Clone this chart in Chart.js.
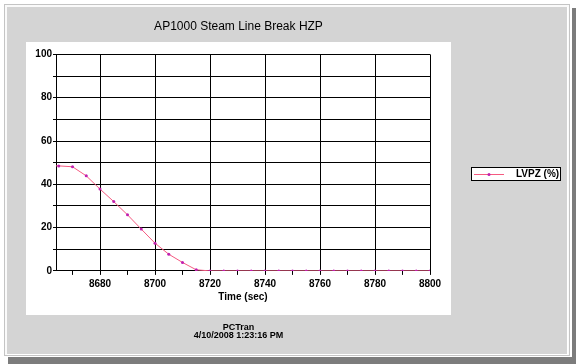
<!DOCTYPE html>
<html>
<head>
<meta charset="utf-8">
<title>AP1000 Steam Line Break HZP</title>
<script src="https://cdn.jsdelivr.net/npm/chart.js@4/dist/chart.umd.min.js"></script>
<style>
  html, body { margin: 0; padding: 0; background: #fff; }
  #frame { position: relative; width: 576px; height: 364px; overflow: hidden; }
  .blk { position: absolute; }
  #c { position: absolute; left: 0; top: 0; }
</style>
</head>
<body>
<div id="frame">
  <div class="blk" style="left:572px;top:8px;width:4px;height:356px;background:#7c7c7c"></div>
  <div class="blk" style="left:8px;top:357px;width:568px;height:7px;background:#7c7c7c"></div>
  <div class="blk" style="left:4px;top:4px;width:564px;height:350px;border:1px solid #c4c4c4;background:#fafafa"></div>
  <div class="blk" style="left:7px;top:7px;width:560px;height:347px;background:#d4d4d4;border-right:1px solid #fff;border-bottom:1px solid #fff"></div>
  <div class="blk" style="left:26px;top:42px;width:425px;height:273px;background:#fff"></div>
  <canvas id="c" width="576" height="364"></canvas>
</div>
<script>
(function() {

  // ***************************************************
  // Data
  // ***************************************************

  var seriesLabel = 'LVPZ (%)';
  var times = [8660, 8665, 8670, 8675, 8680, 8685, 8690, 8695, 8700, 8705, 8710, 8715,
               8720, 8725, 8730, 8735, 8740, 8745, 8750, 8755, 8760, 8765, 8770, 8775,
               8780, 8785, 8790, 8795, 8800];
  var lvpz  = [48.6, 48.5, 48.1, 43.9, 37.8, 32.0, 25.9, 19.3, 12.8, 7.7, 3.9, 0.5,
               0, 0, 0, 0, 0, 0, 0, 0, 0, 0, 0, 0,
               0, 0, 0, 0, 0];
  var xTicks = [8670, 8680, 8690, 8700, 8710, 8720, 8730, 8740, 8750, 8760, 8770, 8780, 8790, 8800];
  var titleText = 'AP1000 Steam Line Break HZP';
  var footerText = ['PCTran', '4/10/2008 1:23:16 PM'];

  var lineColor = '#f55a80';
  var markColor = '#c020b0';

  // ***************************************************
  // Legend box drawn at the right, in the gray panel
  // ***************************************************

  var boxLegend = {
    id: 'boxLegend',
    afterDraw: function(chart) {
      var ctx = chart.ctx;
      var ds = chart.data.datasets[0];
      ctx.save();
      ctx.fillStyle = '#fff';
      ctx.fillRect(471.5, 167.5, 89, 13);
      ctx.strokeStyle = '#000';
      ctx.lineWidth = 1;
      ctx.strokeRect(471.5, 167.5, 89, 13);
      ctx.strokeStyle = ds.borderColor;
      ctx.beginPath();
      ctx.moveTo(474, 174.5);
      ctx.lineTo(504, 174.5);
      ctx.stroke();
      ctx.fillStyle = ds.pointBackgroundColor;
      ctx.beginPath();
      ctx.arc(489, 174.5, 1.5, 0, Math.PI * 2);
      ctx.fill();
      ctx.fillStyle = '#000';
      ctx.font = 'bold 10px "Liberation Sans", Arial, sans-serif';
      ctx.textBaseline = 'middle';
      ctx.fillText(ds.label, 516, 174.5);
      ctx.restore();
    }
  };

  // ***************************************************
  // Chart
  // ***************************************************

  Chart.defaults.font.family = '"Liberation Sans", Arial, sans-serif';
  Chart.defaults.color = '#000';

  var points = times.map(function(t, i) { return { x: t, y: lvpz[i] }; });

  new Chart(document.getElementById('c'), {
    type: 'line',
    data: {
      datasets: [{
        label: seriesLabel,
        data: points,
        borderColor: lineColor,
        borderWidth: 1,
        pointBackgroundColor: markColor,
        pointBorderWidth: 0,
        pointRadius: 1.5,
        tension: 0
      }]
    },
    options: {
      responsive: false,
      animation: false,
      layout: { padding: { left: 26, right: 125, top: 0, bottom: 0 } },
      plugins: {
        legend: { display: false },
        tooltip: { enabled: false },
        title: {
          display: true,
          text: titleText,
          font: { size: 12, weight: 'normal' },
          padding: { top: 19, bottom: 21 }
        },
        subtitle: {
          display: true,
          position: 'bottom',
          text: footerText,
          font: { size: 9, weight: 'bold', lineHeight: 0.95 },
          padding: { top: 13, bottom: 24 }
        }
      },
      scales: {
        x: {
          type: 'linear',
          min: 8664,
          max: 8800,
          afterBuildTicks: function(scale) {
            scale.ticks = xTicks.map(function(v) { return { value: v }; });
          },
          afterFit: function(scale) { scale.height = 39; },
          ticks: {
            autoSkip: false,
            maxRotation: 0,
            padding: 3,
            font: { size: 10, weight: 'bold' },
            callback: function(v) { return v % 20 === 0 ? String(v) : ''; }
          },
          grid: {
            color: function(ctx) {
              return ctx.tick && ctx.tick.value % 20 === 0 ? '#000' : 'rgba(0,0,0,0)';
            },
            tickColor: '#000',
            tickLength: 4
          },
          border: { color: '#000' },
          title: {
            display: true,
            text: 'Time (sec)',
            font: { size: 10, weight: 'bold' },
            padding: { top: 0, bottom: 7 }
          }
        },
        y: {
          min: 0,
          max: 100,
          afterFit: function(scale) { scale.width = 30; },
          ticks: {
            stepSize: 10,
            padding: 1,
            font: { size: 10, weight: 'bold' },
            callback: function(v) { return v % 20 === 0 ? String(v) : ''; }
          },
          grid: { color: '#000', tickColor: '#000', tickLength: 3 },
          border: { color: '#000' }
        },
        // spacer so the plot stops short of the white panel's right edge
        yr: {
          position: 'right',
          min: 0,
          max: 1,
          afterFit: function(scale) { scale.width = 21; },
          ticks: { display: false },
          grid: { display: false },
          border: { display: false }
        }
      }
    },
    plugins: [boxLegend]
  });

})();
</script>
</body>
</html>
